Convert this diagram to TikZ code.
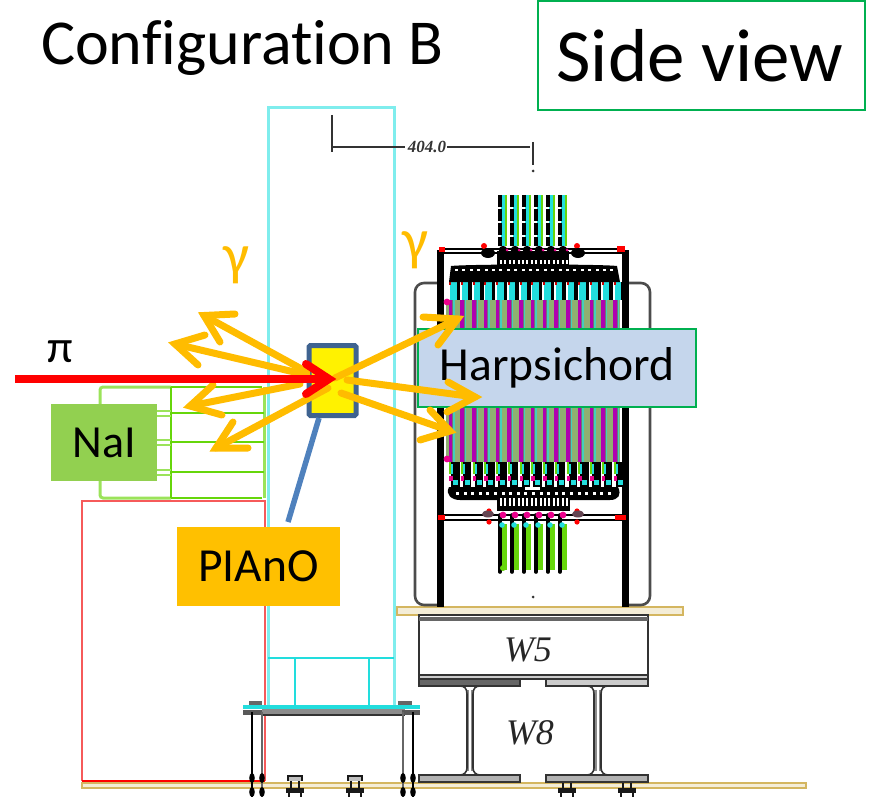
\documentclass[tikz,border=0pt]{standalone}
\usepackage{fontspec}
\setmainfont[Ligatures=NoCommon]{Carlito}
\newfontfamily\drawfont{Liberation Serif}
\definecolor{gold}{HTML}{D4B660}
\definecolor{cyanl}{HTML}{7FEDED}
\definecolor{cyand}{HTML}{22DDDD}
\definecolor{redl}{HTML}{F65A5A}
\definecolor{greenl}{HTML}{9BE35A}
\definecolor{greend}{HTML}{66D60A}
\definecolor{orangeA}{HTML}{FFBC00}
\definecolor{naifill}{HTML}{92D050}
\definecolor{pianofill}{HTML}{FFC000}
\definecolor{harpfill}{HTML}{C5D6EC}
\definecolor{boxgreen}{HTML}{00B050}
\definecolor{navy}{HTML}{3F6390}
\definecolor{leaderblue}{HTML}{4F81BD}
\definecolor{magentaA}{HTML}{B000B0}
\definecolor{fibregrey}{HTML}{8FAF70}
\tikzset{
  cadline/.style={draw=black!80,line width=1.6pt},
  goldplate/.style={draw=gold,fill=white!75!gold,line width=2.4pt},
  cyanline/.style={draw=cyanl,line width=3pt},
  gammaray/.style={draw=orangeA,line width=7pt,line cap=round,line join=miter},
  greek/.style={inner sep=0pt,font=\fontsize{46}{48}\selectfont},
  gammatext/.style={inner sep=0pt,text=orangeA,font=\fontsize{58}{60}\selectfont},
  caddtext/.style={inner sep=0pt,font=\drawfont\itshape\fontsize{36}{38}\selectfont,text=black!85},
}
\newcommand{\gammaArrow}[4]{%
  \draw[gammaray] #1 -- #2;
  \draw[gammaray] #3 -- #2 -- #4;}
\begin{document}
\begin{tikzpicture}[x=1pt,y=-1pt]
\useasboundingbox (0,0) rectangle (871,797);
% base plates
\draw[goldplate] (82,783) rectangle (806,788);
\draw[goldplate] (397,607) rectangle (683,615);
% red support
\draw[draw=redl,line width=2.6pt] (265,781) -- (265,501) -- (82,501) -- (82,781);
\draw[draw=red,line width=2.4pt] (82,781) -- (265,781);
% NaI array
\draw[draw=greenl,line width=3pt,rounded corners=3pt] (171,387) -- (100,387) -- (100,498) -- (171,498);
\draw[draw=greenl,line width=3pt] (264,387) -- (264,498);
\draw[draw=greend,line width=2pt] (171,387) -- (262,387) (171,498) -- (262,498) (171,387) -- (171,498);
\foreach \yy in {413,442,472}{
  \draw[draw=greend,line width=2pt] (171,\yy) -- (264,\yy);
  \draw[draw=greenl,line width=1.6pt] (100,\yy-2) -- (171,\yy-2) (100,\yy+3) -- (171,\yy+3);
}
% cyan column
\draw[cyanline] (268,708) -- (268,108) -- (394,108) -- (394,708);
\draw[draw=cyand,line width=2pt] (268,658) -- (394,658);
\draw[draw=cyand,line width=2pt] (295,658) -- (295,708) (369,658) -- (369,708);
% dimension
\draw[draw=black!80,line width=1.5pt] (332,115) -- (332,152);
\draw[draw=black!80,line width=1.4pt] (332,147) -- (405,147) (447,147) -- (530,147);
\draw[draw=black!80,line width=1.6pt] (533,142) -- (533,165);
\fill[black!80] (533,171) circle (1.5);
\node[inner sep=0pt,font=\drawfont\bfseries\itshape\fontsize{17}{17}\selectfont,text=black!80] (dimtext) at (427,147) {404.0};
% table
\fill[black!45] (262,708) rectangle (405,714);
\draw[draw=black!80,line width=1.4pt] (262,715) -- (405,715);
\fill[black!60] (249,701) rectangle (262,706);
\fill[black!60] (398,701) rectangle (412,706);
\fill[black!65] (243,710) rectangle (262,715);
\fill[black!65] (402,710) rectangle (420,715);
\draw[draw=cyand,line width=4pt] (243,707) -- (420,707);
\foreach \xx/\cc in {252/black,262/black!60,403/black!60,413/black}{
  \draw[draw=\cc,line width=2.4pt] (\xx,712) -- (\xx,797);
  \fill[black] (\xx,778) ellipse (2.8 and 5);
  \fill[black] (\xx,792) ellipse (2.8 and 5);
}
% bolts
\foreach \xx in {295,355,567,627}{
  \draw[draw=black!90,line width=2pt,fill=black!25] (\xx-7,781) -- (\xx-7,776) -- (\xx+7,776) -- (\xx+7,781);
  \draw[draw=black!90,line width=2pt] (\xx-4,781) -- (\xx-4,789) (\xx+4,781) -- (\xx+4,789);
  \fill[black!90] (\xx-9,788) rectangle (\xx+9,792.5);
  \draw[draw=black!90,line width=2pt] (\xx-6,792) -- (\xx-6,797) (\xx+6,792) -- (\xx+6,797);
}
% W5
\draw[cadline] (419,615) rectangle (648,675);
\fill[black!60] (419,617) rectangle (648,621);
\draw[cadline,fill=black!20] (419,675) rectangle (648,679);
\draw[cadline,fill=black!60] (419,679) -- (520,679) -- (520,686) -- (419,686) -- cycle;
\draw[cadline,fill=black!20] (546,679) -- (648,679) -- (648,686) -- (546,686) -- cycle;
\node[caddtext] (wfive) at (528,650) {W5};
% W8
\fill[black!45] (467,690) rectangle (473,771);
\fill[black!45] (594,690) rectangle (601,771);
\fill[white] (469,690) rectangle (471,771);
\fill[white] (596.5,690) rectangle (598.5,771);
\foreach \xa/\xb in {463/477,590/605}{
  \draw[cadline] (\xa-3,686) .. controls (\xa+1,686) and (\xa+4,688) .. (\xa+4,694) -- (\xa+4,768) .. controls (\xa+4,772) and (\xa+1,775) .. (\xa-3,775);
  \draw[cadline] (\xb+3,686) .. controls (\xb-1,686) and (\xb-4,688) .. (\xb-4,694) -- (\xb-4,768) .. controls (\xb-4,772) and (\xb-1,775) .. (\xb+3,775);
}
\draw[cadline,fill=black!30] (419,775) rectangle (520,782);
\draw[cadline,fill=black!30] (546,775) rectangle (648,782);
\node[caddtext] (weight) at (530,733) {W8};
% Harpsichord: outer brackets
\draw[draw=black!70,line width=2.6pt,rounded corners=9pt] (440,283) -- (415,283) -- (415,605) -- (440,605);
\draw[draw=black!70,line width=2.6pt,rounded corners=9pt] (625,283) -- (650,283) -- (650,605) -- (625,605);
\fill[black] (437,250) rectangle (444,607);
\fill[black] (622,250) rectangle (629,607);
% fibres
\fill[fibregrey] (446,300) rectangle (620,462);
\foreach \i in {0,...,14}{
  \pgfmathsetmacro{\xx}{450+\i*11.75}
  \fill[magentaA] (\xx-1.5,300) rectangle (\xx+2,462);
  \fill[black!55] (\xx+2,300) rectangle (\xx+3,462);
  \fill[cyand!70!fibregrey] (\xx+3,300) rectangle (\xx+4.5,462);
  % upper guides
  \fill[cyand] (\xx,282) rectangle (\xx+6.5,300);
  \fill[black] (\xx+6.5,282) rectangle (\xx+10,300);
  \fill[red!80!black] (\xx-1,281) rectangle (\xx+1,285);
  % lower guides
  \fill[black] (\xx+1,462) rectangle (\xx+9.5,487);
  \fill[greend] (\xx-1,462) rectangle (\xx+1,474);
  \fill[cyand] (\xx+1,464) rectangle (\xx+3,474);
  \fill[magenta] (\xx-1,476) rectangle (\xx+2.5,481);
  \fill[cyand] (\xx+3,480) rectangle (\xx+8,485);
}
\fill[magenta] (447,302) circle (3.4);
\fill[magenta] (447,459) circle (3.4);
% upper assembly
\draw[draw=black,line width=2pt,fill=white] (442,249) rectangle (623,253);
\fill[black] (451,266) .. controls (470,264) and (600,264) .. (617,266) -- (620,282) -- (449,282) -- cycle;
\foreach \i in {0,...,21}{
  \fill[white] (455+\i*7.4,268.5) rectangle (458+\i*7.4,271);
}
\fill[black] (497,251) rectangle (569,266);
\foreach \i in {0,...,15}{
  \fill[white] (500+\i*4.4,260) rectangle (502+\i*4.4,264);
}
\fill[red] (484,246) circle (3);
\fill[red] (577,246) circle (3);
\fill[black] (488,253) ellipse (7 and 5);
\fill[black] (578,253) ellipse (7 and 5);
\fill[red] (439,247) rectangle (445,252);
\fill[red] (617,246) rectangle (625,252);
% lower assembly
\fill[black] (449,487) .. controls (445,495) and (452,500) .. (460,500) -- (610,500) .. controls (618,500) and (622,495) .. (618,487) -- cycle;
\foreach \i in {0,...,20}{
  \fill[white] (456+\i*7.6,492) rectangle (459+\i*7.6,495);
}
\fill[white] (525,487) rectangle (540,490);
\fill[black] (497,497) rectangle (570,511);
\foreach \i in {0,...,15}{
  \fill[white] (500+\i*4.4,498) rectangle (502+\i*4.4,506);
}
\draw[draw=black,line width=2pt,fill=white] (442,515) rectangle (623,520);
\fill[red] (438,515) rectangle (445,520);
\fill[red] (615,515) rectangle (626,520);
\fill[red] (489,511) circle (2.6);
\fill[red] (489,522) circle (2.6);
\fill[red] (577,511) circle (2.6);
\fill[red] (577,522) circle (2.6);
\fill[black!70!magenta] (488,514) ellipse (6 and 3.5);
\fill[black!70!magenta] (578,514) ellipse (6 and 3.5);
% tubes
\foreach \xx in {500,512,524,536,548,560}{
  \fill[cyand] (\xx+1,195) rectangle (\xx+6,246);
  \fill[greend] (\xx+5,195) rectangle (\xx+7,246);
  \draw[draw=black,line width=3.6pt,dash pattern=on 12pt off 2pt] (\xx,195) -- (\xx,246);
  \fill[black] (\xx+3,250) circle (4.2);
  \fill[magenta] (\xx+7,250) circle (1.5);
  % lower tubes
  \draw[draw=black,line width=3.6pt,line cap=round] (\xx,515) -- (\xx,572);
  \fill[greend] (\xx+2,524) rectangle (\xx+7,570);
  \fill[magenta] (\xx+3,515) circle (3.4);
  \fill[cyand] (\xx+2,525) circle (2.8);
}
\fill[greend] (503,568) circle (3);
\fill[black!80] (533,597) circle (1.5);
% annotation boxes
\node[draw=boxgreen,fill=harpfill,line width=1.6pt,minimum width=278pt,minimum height=78pt,inner sep=0pt,font=\fontsize{47.5}{50}\selectfont] (harp) at (557,368) {Harpsichord};
\node[fill=naifill,minimum width=106pt,minimum height=77pt,inner sep=0pt,font=\fontsize{46}{48}\selectfont] (nai) at (104,442.5) {NaI};
\node[fill=pianofill,minimum width=163pt,minimum height=79pt,inner sep=0pt,font=\fontsize{47.5}{50}\selectfont] (piano) at (258.5,566) {PIAnO};
\node[draw=navy,fill=yellow,line width=5pt,rounded corners=1.5pt,minimum width=47pt,minimum height=70pt,inner sep=0pt] (target) at (332.5,380.5) {};
\coordinate (leaderTop) at (319,418);
\coordinate (leaderEnd) at (288,522);
\draw[draw=leaderblue,line width=5.5pt] (leaderTop) -- (leaderEnd);
% gamma rays
\gammaArrow{(307,372)}{(204,315.5)}{(235,314)}{(220,342)}
\gammaArrow{(307,375)}{(175,344)}{(205,335)}{(198,365)}
\gammaArrow{(300,384)}{(190,406)}{(213,385)}{(222,415)}
\gammaArrow{(328,388)}{(216,448)}{(233,422)}{(248,448)}
\gammaArrow{(335,378)}{(457.5,319)}{(423,317)}{(438,345)}
\gammaArrow{(347,380)}{(475,397)}{(447,412)}{(448,382)}
\gammaArrow{(341,393)}{(450,431)}{(420,440)}{(430,410)}
% beam
\coordinate (beamStart) at (15,379);
\coordinate (beamTip) at (329,379);
\draw[draw=red,line width=8pt] (beamStart) -- (beamTip);
\draw[draw=red,line width=8pt,line cap=round,line join=miter] (306,364) -- (beamTip) -- (306,394);
% labels
\node[greek] (pilabel) at (60,352) {π};
\node[gammatext] (gammaleft) at (236,265) {γ};
\node[gammatext] (gammaright) at (415,250) {γ};
\node[inner sep=0pt,font=\fontsize{64}{66}\selectfont] (title) at (242.5,48) {Configuration B};
\node[draw=boxgreen,line width=1.6pt,minimum width=327pt,minimum height=109pt,inner sep=0pt] (sideview) at (701.5,55.5) {};
\node[inner sep=0pt,font=\fontsize{75}{77}\selectfont] (sidetext) at (700,56) {Side view};
\end{tikzpicture}
\end{document}
